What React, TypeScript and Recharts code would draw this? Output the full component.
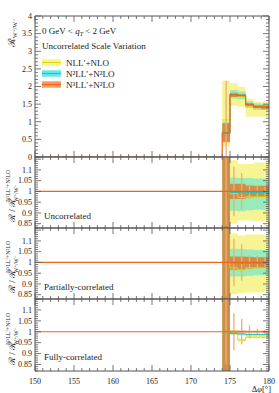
import React from 'react'
import { ComposedChart, Area, Line, Scatter, ErrorBar, XAxis, YAxis, Legend } from 'recharts'

const W = 279
const H = 393
const PLOT_L = 35
const PLOT_R = 269
const FONT = '"Liberation Serif", "DejaVu Serif", serif'
const AXIS = '#555'

// bins in Δφ [deg]; values are per bin, the last edge repeats the 179-180 bin
const binEdges = [174, 175, 176, 177, 178, 179, 180]
const binCentres = [174.5, 175.5, 176.5, 177.5, 178.5, 179.5]
const seriesNames = ['NLL′+NLO', 'N²LL′+N²LO', 'N³LL′+N²LO']

// top panel: R_{W+/W-}
const mainNllLo = [0.30, 1.47, 1.42, 1.14, 1.14, 1.14]
const mainNllHi = [2.16, 2.10, 1.99, 1.65, 1.56, 1.56]
const mainNllMid = [1.05, 1.78, 1.72, 1.42, 1.36, 1.35]
const mainN2llLo = [0.45, 1.66, 1.64, 1.40, 1.35, 1.33]
const mainN2llHi = [1.00, 1.90, 1.86, 1.58, 1.52, 1.50]
const mainN2llMid = [0.70, 1.77, 1.75, 1.48, 1.42, 1.41]
const mainN3llLo = [0.42, 1.70, 1.70, 1.45, 1.39, 1.36]
const mainN3llHi = [0.96, 1.82, 1.79, 1.53, 1.47, 1.47]
const mainN3llMid = [0.68, 1.76, 1.74, 1.49, 1.43, 1.42]
const mainStatLo = [0.68, 0.04, 0.04, 0.03, 0.03, 0.02]
const mainStatHi = [1.48, 0.04, 0.04, 0.03, 0.03, 0.02]

// ratio panel: uncorrelated (first bin runs off the panel)
const uncNllLo = [0.83, 0.850, 0.865, 0.865, 0.862, 0.862]
const uncNllHi = [1.16, 1.145, 1.128, 1.128, 1.135, 1.135]
const uncNllMid = [1.00, 0.990, 0.972, 0.975, 0.975, 0.975]
const uncN2llLo = [0.83, 0.910, 0.908, 0.912, 0.915, 0.915]
const uncN2llHi = [1.16, 1.065, 1.062, 1.062, 1.060, 1.060]
const uncN2llMid = [1.00, 0.995, 0.993, 0.995, 0.995, 0.995]
const uncN3llLo = [0.83, 0.965, 0.965, 0.972, 0.974, 0.974]
const uncN3llHi = [1.16, 1.036, 1.036, 1.028, 1.026, 1.026]
const uncStat = [0.16, 0.115, 0.085, 0.035, 0.030, 0.020]

// ratio panel: partially-correlated
const parNllLo = [0.83, 0.852, 0.858, 0.860, 0.860, 0.860]
const parNllHi = [1.16, 1.135, 1.125, 1.130, 1.130, 1.130]
const parNllMid = [1.00, 0.975, 0.965, 0.975, 0.975, 0.975]
const parN2llLo = [0.83, 0.935, 0.935, 0.938, 0.940, 0.940]
const parN2llHi = [1.16, 1.064, 1.062, 1.060, 1.058, 1.058]
const parN2llMid = [1.00, 0.997, 0.995, 0.995, 0.995, 0.995]
const parN3llLo = [0.83, 0.966, 0.966, 0.972, 0.974, 0.974]
const parN3llHi = [1.16, 1.028, 1.028, 1.026, 1.024, 1.024]
const parStat = [0.16, 0.110, 0.085, 0.035, 0.030, 0.020]

// ratio panel: fully-correlated
const fulNllLo = [0.82, 0.994, 0.955, 0.970, 0.970, 0.970]
const fulNllHi = [1.15, 1.004, 0.968, 0.980, 0.980, 0.980]
const fulNllMid = [1.00, 0.999, 0.962, 0.975, 0.975, 0.975]
const fulN2llLo = [0.82, 0.986, 0.984, 0.982, 0.982, 0.982]
const fulN2llHi = [1.15, 0.998, 0.996, 0.992, 0.992, 0.992]
const fulN2llMid = [1.00, 0.992, 0.990, 0.987, 0.987, 0.987]
const fulN3llLo = [0.82, 0.996, 0.996, 0.997, 0.997, 0.997]
const fulN3llHi = [1.15, 1.006, 1.006, 1.004, 1.004, 1.004]
const fulStat = [0.15, 0.085, 0.058, 0.030, 0.014, 0.010]

const ratioN3llMid = [1, 1, 1, 1, 1, 1]

const xMajorLabels = [150, 155, 160, 165, 170, 175, 180]
const mainYLabels = [0, 0.5, 1, 1.5, 2, 2.5, 3, 3.5, 4]
const ratioYLabels = [0.85, 0.9, 0.95, 1, 1.05, 1.1]

const C = {
  nllFill: '#f3f070', nllLine: '#e2d600',
  n2llFill: '#3ce4de', n2llLine: '#22c2be',
  n3llFill: '#e66414', n3llLine: '#f06414',
  stat: '#f4aa7c',
}

function steps(from: number, to: number, step: number) {
  const out: number[] = []
  for (let v = from; v <= to + 1e-9; v += step) out.push(Math.round(v * 1000) / 1000)
  return out
}

type Row = { x: number; [k: string]: any }

function buildRows(bands: Record<string, number[][]>, lines: Record<string, number[]>, lead: Record<string, number>): Row[] {
  const rows: Row[] = [{ x: 150, ...lead }]
  binEdges.forEach((edge, i) => {
    const j = Math.min(i, binCentres.length - 1)
    const row: Row = { x: edge }
    for (const k in bands) row[k] = [bands[k][0][j], bands[k][1][j]]
    for (const k in lines) row[k] = lines[k][j]
    rows.push(row)
  })
  return rows
}

function buildErrs(mid: number[], lo: number[], hi: number[]) {
  return binCentres.map((x, i) => ({ x, y: mid[i], err: [lo[i], hi[i]] }))
}

const mainRows = buildRows(
  { nll: [mainNllLo, mainNllHi], n2ll: [mainN2llLo, mainN2llHi], n3ll: [mainN3llLo, mainN3llHi] },
  { nllMid: mainNllMid, n2llMid: mainN2llMid, n3llMid: mainN3llMid },
  { n3llMid: 0 },
)
const mainErrs = buildErrs(mainN3llMid, mainStatLo, mainStatHi)

const uncRows = buildRows(
  { nll: [uncNllLo, uncNllHi], n2ll: [uncN2llLo, uncN2llHi], n3ll: [uncN3llLo, uncN3llHi] },
  { nllMid: uncNllMid, n2llMid: uncN2llMid, n3llMid: ratioN3llMid },
  { n3llMid: 1 },
)
const uncErrs = buildErrs(ratioN3llMid, uncStat, uncStat)

const parRows = buildRows(
  { nll: [parNllLo, parNllHi], n2ll: [parN2llLo, parN2llHi], n3ll: [parN3llLo, parN3llHi] },
  { nllMid: parNllMid, n2llMid: parN2llMid, n3llMid: ratioN3llMid },
  { n3llMid: 1 },
)
const parErrs = buildErrs(ratioN3llMid, parStat, parStat)

const fulRows = buildRows(
  { nll: [fulNllLo, fulNllHi], n2ll: [fulN2llLo, fulN2llHi], n3ll: [fulN3llLo, fulN3llHi] },
  { nllMid: fulNllMid, n2llMid: fulN2llMid, n3llMid: ratioN3llMid },
  { n3llMid: 1 },
)
const fulErrs = buildErrs(ratioN3llMid, fulStat, fulStat)

const xTickVals = steps(150, 180, 1)

// inward ticks, drawn by hand so they sit inside the frame
const xTick = (edge: number, dir: number, labelled: boolean) => (props: any) => {
  const { x, payload } = props
  const v = payload.value
  const major = xMajorLabels.includes(v)
  const len = major ? 6 : 3
  return (
    <g>
      <line x1={x} x2={x} y1={edge} y2={edge + dir * len} stroke={AXIS} strokeWidth={0.8} />
      {labelled && major && (
        <text x={x} y={383.5} textAnchor="middle" fontSize={8} fontFamily={FONT} fill="#222">{v}</text>
      )}
    </g>
  )
}

const yTick = (side: string, isMajor: (v: number) => boolean, labels: number[]) => (props: any) => {
  const { y, payload } = props
  const v = payload.value
  const major = isMajor(v)
  const len = major ? 6 : 3
  const x0 = side === 'left' ? PLOT_L : PLOT_R
  const dx = side === 'left' ? len : -len
  const showLabel = side === 'left' && labels.some((l) => Math.abs(l - v) < 1e-6)
  return (
    <g>
      <line x1={x0} x2={x0 + dx} y1={y} y2={y} stroke={AXIS} strokeWidth={0.8} />
      {showLabel && (
        <text x={x0 - 3} y={y + 2.8} textAnchor="end" fontSize={8} fontFamily={FONT} fill="#222">{String(v)}</text>
      )}
    </g>
  )
}

const LegendBox = (props: any) => {
  const items = props.payload ?? []
  const fills = [C.nllFill, C.n2llFill, '#f08040']
  const lines = [C.nllLine, C.n2llLine, C.n3llLine]
  return (
    <svg width={W} height={100} style={{ display: 'block', overflow: 'visible' }} fontFamily={FONT} fontSize={9} fill="#222">
      <text x={42} y={34}>
        0 GeV &lt; <tspan fontStyle="italic">q</tspan>
        <tspan fontSize={6} dy={1.5} fontStyle="italic">T</tspan>
        <tspan dy={-1.5}> &lt; 2 GeV</tspan>
      </text>
      <text x={42} y={49}>Uncorrelated Scale Variation</text>
      {seriesNames.map((name, i) => {
        const cy = 62.5 + i * 11
        const label = items[i]?.value ?? name
        return (
          <g key={name}>
            <rect x={42} y={cy - 3.2} width={19} height={6.4} fill={fills[i]} fillOpacity={0.8} />
            <line x1={42} x2={61} y1={cy} y2={cy} stroke={lines[i]} strokeWidth={1} />
            <text x={66} y={cy + 3}>{label}</text>
          </g>
        )
      })}
    </svg>
  )
}

interface PanelProps {
  rows: Row[]
  errs: { x: number; y: number; err: number[] }[]
  top: number
  bottom: number
  domain: [number, number]
  yTickVals: number[]
  isMajorY: (v: number) => boolean
  yLabels: number[]
  xLabelled?: boolean
  withLegend?: boolean
}

function Panel({ rows, errs, top, bottom, domain, yTickVals, isMajorY, yLabels, xLabelled = false, withLegend = false }: PanelProps) {
  return (
    <div style={{ position: 'absolute', left: 0, top: 0 }}>
      <ComposedChart width={W} height={H} data={rows} margin={{ top: top - 1, right: 0, bottom: H - bottom - 1, left: 0 }}>
        <XAxis
          dataKey="x" type="number" domain={[150, 180]} ticks={xTickVals} interval={0}
          height={1} axisLine={{ stroke: AXIS }} tickLine={false} tick={xTick(bottom, -1, xLabelled)} allowDataOverflow
        />
        <XAxis
          xAxisId="top" orientation="top" dataKey="x" type="number" domain={[150, 180]} ticks={xTickVals} interval={0}
          height={1} axisLine={{ stroke: AXIS }} tickLine={false} tick={xTick(top, 1, false)} allowDataOverflow
        />
        <YAxis
          type="number" domain={domain} ticks={yTickVals} interval={0} width={PLOT_L}
          axisLine={{ stroke: AXIS }} tickLine={false} tick={yTick('left', isMajorY, yLabels)} allowDataOverflow
        />
        <YAxis
          yAxisId="right" orientation="right" type="number" domain={domain} ticks={yTickVals} interval={0} width={W - PLOT_R}
          axisLine={{ stroke: AXIS }} tickLine={false} tick={yTick('right', isMajorY, yLabels)} allowDataOverflow
        />
        <Area type="stepAfter" dataKey="nll" name={seriesNames[0]} stroke="none" fill={C.nllFill} fillOpacity={0.75} isAnimationActive={false} legendType="rect" />
        <Area type="stepAfter" dataKey="n2ll" name={seriesNames[1]} stroke="none" fill={C.n2llFill} fillOpacity={0.5} isAnimationActive={false} legendType="rect" />
        <Scatter data={errs} dataKey="y" shape={() => <g />} legendType="none" isAnimationActive={false}>
          <ErrorBar dataKey="err" direction="y" width={0} stroke={C.stat} strokeWidth={1.3} isAnimationActive={false} />
        </Scatter>
        <Area type="stepAfter" dataKey="n3ll" name={seriesNames[2]} stroke="none" fill={C.n3llFill} fillOpacity={0.68} isAnimationActive={false} legendType="rect" />
        <Line type="stepAfter" dataKey="nllMid" stroke={C.nllLine} strokeWidth={1} dot={false} legendType="none" isAnimationActive={false} />
        <Line type="stepAfter" dataKey="n2llMid" stroke={C.n2llLine} strokeWidth={1} dot={false} legendType="none" isAnimationActive={false} />
        <Line type="stepAfter" dataKey="n3llMid" stroke={C.n3llLine} strokeWidth={1.2} dot={false} legendType="none" isAnimationActive={false} />
        {withLegend && (
          <Legend
            layout="horizontal" verticalAlign="middle" align="center"
            content={LegendBox} wrapperStyle={{ left: 0, top: 0, width: W, height: 100 }}
          />
        )}
      </ComposedChart>
    </div>
  )
}

const mainMajor = (v: number) => Math.abs(v * 2 - Math.round(v * 2)) < 1e-6
const ratioMajor = (v: number) => Math.abs(v * 20 - Math.round(v * 20)) < 1e-6
const mainYTicks = steps(0, 4, 0.1)
const ratioYTicks = steps(0.83, 1.16, 0.01)
const ratioDomain: [number, number] = [0.83, 1.16]

function RatioTitle({ base }: { base: number }) {
  return (
    <g transform={`translate(14.5, ${base}) rotate(-90)`} fontFamily={FONT} fill="#222">
      <text x={0} y={0} fontSize={9}>ℛ / ℛ</text>
      <text x={20} y={-4.5} fontSize={6}>N³LL′+N²LO</text>
      <text x={20} y={3} fontSize={5.5}>W⁺/W⁻</text>
    </g>
  )
}

export default function App() {
  return (
    <div style={{ position: 'fixed', left: 0, top: 0, width: W, height: H, background: '#fff', overflow: 'hidden' }}>
      <Panel rows={mainRows} errs={mainErrs} top={16} bottom={157} domain={[0, 4]} yTickVals={mainYTicks} isMajorY={mainMajor} yLabels={mainYLabels} withLegend />
      <Panel rows={uncRows} errs={uncErrs} top={157} bottom={228} domain={ratioDomain} yTickVals={ratioYTicks} isMajorY={ratioMajor} yLabels={ratioYLabels} />
      <Panel rows={parRows} errs={parErrs} top={228} bottom={299} domain={ratioDomain} yTickVals={ratioYTicks} isMajorY={ratioMajor} yLabels={ratioYLabels} />
      <Panel rows={fulRows} errs={fulErrs} top={299} bottom={371} domain={[0.82, 1.15]} yTickVals={steps(0.82, 1.15, 0.01)} isMajorY={ratioMajor} yLabels={ratioYLabels} xLabelled />
      <svg width={W} height={H} style={{ position: 'absolute', left: 0, top: 0, pointerEvents: 'none' }}>
        <g transform="translate(14.5, 47) rotate(-90)" fontFamily={FONT} fill="#222">
          <text x={0} y={0} fontSize={10}>ℛ<tspan fontSize={6} dy={2}>W⁺/W⁻</tspan></text>
        </g>
        <RatioTitle base={222} />
        <RatioTitle base={293} />
        <RatioTitle base={365} />
        <g fontFamily={FONT} fontSize={9} fill="#222">
          <text x={44} y={219}>Uncorrelated</text>
          <text x={44} y={290}>Partially-correlated</text>
          <text x={44} y={360}>Fully-correlated</text>
          <text x={271} y={392} textAnchor="end" fontSize={8.5}>Δ<tspan fontStyle="italic">φ</tspan>[°]</text>
        </g>
      </svg>
    </div>
  )
}
